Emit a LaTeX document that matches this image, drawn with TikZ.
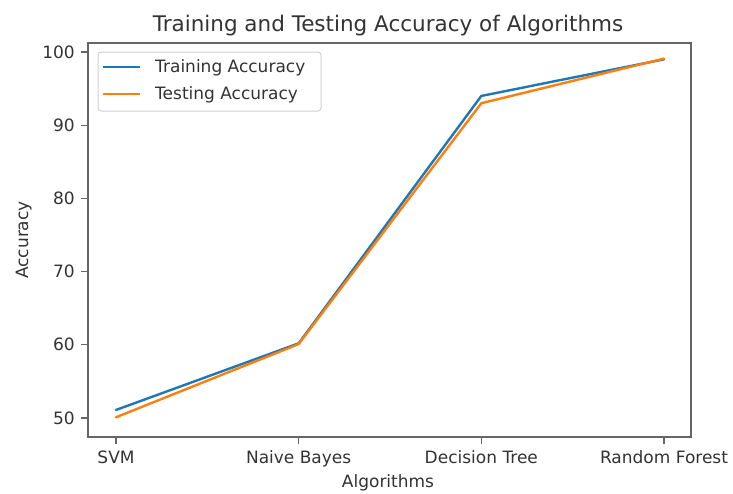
\documentclass[tikz,border=0pt]{standalone}
\usepackage{fontspec}
\setmainfont{DejaVu Sans}
\definecolor{tabblue}{HTML}{1F77B4}
\definecolor{taborange}{HTML}{FF7F0E}
\definecolor{txt}{HTML}{333333}
\begin{document}
\begin{tikzpicture}[x=1pt,y=-1pt,
  axisline/.style={draw=black!60,line width=1.6pt},
  tickmark/.style={draw=black!60,line width=1.3pt},
  ticklab/.style={font=\fontsize{17}{20}\selectfont,text=txt,inner sep=0pt},
  serieslineA/.style={draw=tabblue,line width=2.4pt,line join=round,line cap=round},
  serieslineB/.style={draw=taborange,line width=2.4pt,line join=round,line cap=round},
  legbox/.style={draw=black!18,line width=1pt,rounded corners=3pt,fill=white}]
\useasboundingbox (0,0) rectangle (733,493);
\fill[white] (0,0) rectangle (733,493);
% series
\foreach \i/\v [count=\k] in {0/51.1,1/60.2,2/94.0,3/99.0}
  \coordinate (tr\k) at ({116+182.67*\i},{418-7.32*(\v-50)});
\foreach \i/\v [count=\k] in {0/50.1,1/60.1,2/93.0,3/99.1}
  \coordinate (te\k) at ({116+182.67*\i},{418-7.32*(\v-50)});
\draw[serieslineA] (tr1) -- (tr2) -- (tr3) -- (tr4);
\draw[serieslineB] (te1) -- (te2) -- (te3) -- (te4);
% axes frame
\draw[axisline] (88,43) rectangle (691,437);
% y ticks
\foreach \v in {50,60,70,80,90,100}{
  \draw[tickmark] (81,{418-7.32*(\v-50)}) -- (88,{418-7.32*(\v-50)});
  \node[ticklab,anchor=east] (yl\v) at (75,{418-7.32*(\v-50)}) {\v};
}
% x ticks
\foreach \i/\t [count=\k] in {0/SVM,1/Naive Bayes,2/Decision Tree,3/Random Forest}{
  \draw[tickmark] ({116+182.67*\i},437) -- ({116+182.67*\i},444);
  \node[ticklab,anchor=base] (xl\k) at ({116+182.67*\i},463) {\t};
}
% axis labels and title
\node[ticklab,anchor=base] (xlabel) at (388,487) {Algorithms};
\node[ticklab,rotate=90,anchor=base] (ylabel) at (28,240) {Accuracy};
\node[ticklab,anchor=base,font=\fontsize{21.5}{25}\selectfont] (title) at (388,31) {Training and Testing Accuracy of Algorithms};
% legend
\draw[legbox] (98,52) rectangle (321,111);
\coordinate (la1) at (103,67); \coordinate (la2) at (140,67);
\coordinate (lb1) at (103,94); \coordinate (lb2) at (140,94);
\draw[serieslineA,line cap=butt] (la1) -- (la2);
\draw[serieslineB,line cap=butt] (lb1) -- (lb2);
\node[ticklab,anchor=west] (legA) at (155,68) {Training Accuracy};
\node[ticklab,anchor=west] (legB) at (155,95) {Testing Accuracy};
\end{tikzpicture}
\end{document}
